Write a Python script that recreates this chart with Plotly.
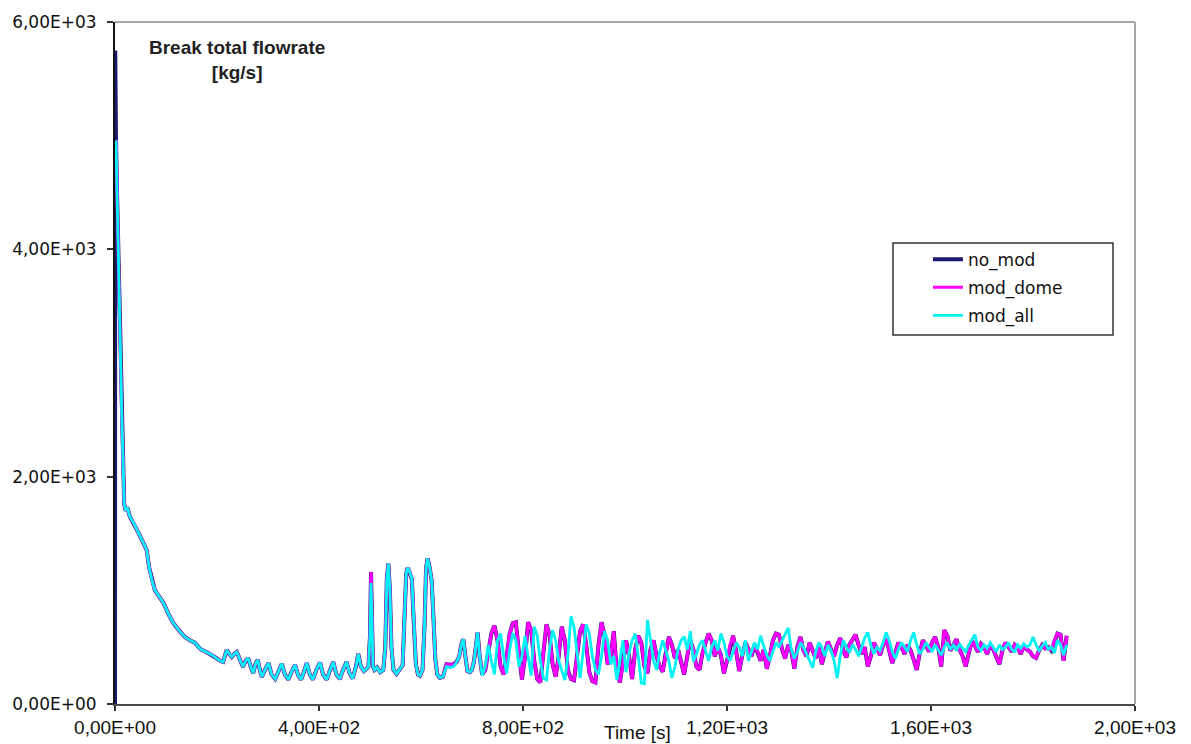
import plotly.graph_objects as go

# ---- data: break total flowrate [kg/s] versus time [s] ----

# opening peak of each case
t_peak_no_mod = [0, 0.5]
q_peak_no_mod = [0, 5750]
t_peak_mod = [1.5]
q_peak_dome = [4950]
q_peak_all = [4950]

# blowdown: the three cases coincide
t_decay = [2, 4, 8, 13, 18, 21, 24, 29, 38, 46, 54, 62, 67, 72, 78, 86, 95, 104, 114, 125,
           137, 147, 157, 164, 170, 180, 190, 200, 206, 212, 216, 219, 224, 229, 234, 239, 245, 251, 256, 261,
           266, 271, 276, 280, 284, 288, 294, 301, 307, 314, 320, 327, 333, 340, 346, 353, 359, 365, 371, 376,
           382, 388, 395, 402, 408, 415, 421, 428, 434, 441, 447, 454, 460, 466, 472, 477, 482, 488, 493]
q_decay = [4950, 4500, 3600, 2600, 1760, 1700, 1730, 1650, 1580, 1506, 1430, 1357, 1200, 1093, 1004, 950, 890, 800, 714, 650,
           590, 560, 537, 500, 476, 455, 432, 400, 380, 370, 430, 476, 440, 414, 440, 458, 390, 326, 380, 405,
           330, 273, 360, 388, 300, 238, 300, 360, 260, 220, 280, 355, 260, 215, 280, 345, 255, 215, 290, 360,
           260, 215, 300, 365, 260, 215, 290, 370, 260, 220, 300, 370, 270, 225, 320, 440, 330, 290, 310]

# flow spikes
t_spike = [497, 500, 502, 504, 506, 509, 514, 520, 526, 530, 533, 536, 539, 542, 546, 552, 558, 564, 568, 571,
           574, 578, 582, 586, 590, 594, 598, 603, 607, 610, 613, 617, 621, 625, 628, 632, 637, 643, 650, 657,
           664, 670, 675, 679, 683, 687, 691, 696, 700, 704, 708, 711, 715]
q_dome_spike = [330, 600, 1160, 720, 330, 300, 320, 280, 300, 500, 1100, 1235, 1000, 500, 300, 265, 300, 340, 800, 1150,
                1200, 1160, 1100, 700, 350, 260, 250, 300, 700, 1200, 1280, 1200, 1080, 700, 400, 260, 230, 240, 350, 345,
                350, 370, 420, 520, 570, 420, 290, 280, 300, 380, 560, 630, 420]
q_all_spike = [330, 600, 1065, 700, 330, 300, 320, 280, 300, 500, 1100, 1235, 1000, 500, 300, 265, 300, 340, 800, 1150,
               1200, 1160, 1100, 700, 350, 260, 250, 300, 700, 1200, 1280, 1200, 1080, 700, 400, 260, 230, 240, 330, 320,
               330, 370, 420, 520, 570, 420, 290, 280, 300, 380, 560, 630, 420]

# oscillating phase, sampled every 6 s from 720 s
t_osc_start = 720
t_osc_step = 6
q_dome_osc = [260, 300, 470, 620, 690, 560, 330, 260, 420, 620,
              710, 720, 450, 215, 420, 720, 650, 380, 220, 190,
              450, 700, 610, 350, 240, 420, 680, 560, 300, 220,
              210, 430, 640, 700, 520, 280, 200, 190, 520, 720,
              600, 350, 420, 640, 280, 190, 350, 560, 420, 220,
              480, 600, 540, 330, 270, 480, 560, 420, 330, 285,
              450, 590, 520, 400, 480, 380, 260, 420, 560, 480,
              330, 300, 450, 540, 620, 560, 420, 500, 430, 270,
              380, 520, 600, 460, 290, 430, 540, 480, 420, 520,
              460, 380, 480, 310, 420, 560, 620, 610, 480, 400,
              520, 470, 310, 500, 590, 470, 420, 540, 470, 400,
              500, 350, 460, 550, 480, 420, 520, 580, 470, 410,
              520, 560, 610, 520, 440, 500, 330, 420, 540, 490,
              430, 520, 570, 470, 360, 450, 540, 500, 440, 520,
              470, 390, 300, 450, 560, 520, 460, 540, 590, 500,
              330, 650, 600, 470, 520, 570, 480, 420, 330, 460,
              560, 510, 460, 530, 500, 440, 520, 480, 420, 350,
              470, 540, 500, 460, 520, 490, 440, 510, 480, 460,
              420, 405, 470, 520, 490, 500, 470, 560, 620, 610,
              380, 600]
q_all_osc = [250, 330, 520, 380, 260, 560, 620, 420, 270, 480,
             625, 560, 330, 420, 600, 420, 250, 681, 600, 380,
             230, 211, 480, 650, 560, 380, 300, 211, 420, 770,
             680, 450, 230, 460, 700, 620, 420, 300, 260, 420,
             640, 560, 350, 420, 211, 380, 560, 280, 450, 560,
             620, 420, 185, 180, 740, 560, 380, 300, 460, 560,
             470, 380, 229, 330, 480, 560, 593, 480, 640, 373,
             440, 520, 560, 460, 380, 500, 560, 470, 620, 540,
             420, 380, 470, 540, 500, 420, 560, 380, 460, 540,
             480, 600, 510, 430, 380, 470, 540, 500, 560, 620,
             670, 480, 400, 460, 540, 500, 440, 380, 320, 460,
             540, 500, 420, 520, 470, 380, 229, 420, 560, 500,
             450, 520, 480, 420, 500, 580, 630, 520, 440, 500,
             470, 540, 630, 560, 460, 400, 480, 540, 500, 460,
             560, 630, 520, 440, 480, 540, 500, 460, 520, 480,
             430, 500, 540, 480, 520, 470, 530, 490, 460, 520,
             560, 610, 500, 470, 520, 490, 540, 500, 460, 520,
             480, 500, 540, 480, 460, 520, 490, 530, 500, 520,
             590, 520, 470, 510, 540, 480, 500, 450, 560, 520,
             430, 520]
# no_mod follows mod_dome after the opening peak
q_no_mod_spike = q_dome_spike
q_no_mod_osc = q_dome_osc

x_ticks = [0, 400, 800, 1200, 1600, 2000]
x_tick_text = ["0,00E+00", "4,00E+02", "8,00E+02", "1,20E+03", "1,60E+03", "2,00E+03"]
y_ticks = [0, 2000, 4000, 6000]
y_tick_text = ["0,00E+00", "2,00E+03", "4,00E+03", "6,00E+03"]


def osc_times(values):
    return [t_osc_start + t_osc_step * i for i in range(len(values))]


series = [
    ("no_mod", "#1c1a6e", 4.0,
     t_peak_no_mod + t_decay + t_spike + osc_times(q_no_mod_osc),
     q_peak_no_mod + q_decay + q_no_mod_spike + q_no_mod_osc),
    ("mod_dome", "#ff00ff", 3.2,
     t_peak_mod + t_decay + t_spike + osc_times(q_dome_osc),
     q_peak_dome + q_decay + q_dome_spike + q_dome_osc),
    ("mod_all", "#00f2f2", 2.8,
     t_peak_mod + t_decay + t_spike + osc_times(q_all_osc),
     q_peak_all + q_decay + q_all_spike + q_all_osc),
]

fig = go.Figure()
for name, color, width, t, q in series:
    fig.add_trace(go.Scatter(
        x=t, y=q, mode="lines", name=name, legendgroup=name,
        line=dict(color=color, width=width),
    ))

L, R, T, B = 115, 56, 22, 40
W, H = 1191, 744
TXT = "Liberation Sans, Arial, sans-serif"

fig.update_layout(
    width=W, height=H,
    margin=dict(l=L, r=R, t=T, b=B, pad=0),
    paper_bgcolor="white", plot_bgcolor="white",
    showlegend=True,
    legend=dict(
        x=0.797, y=0.678, xanchor="left", yanchor="top",
        bgcolor="rgba(0,0,0,0)", borderwidth=0,
        font=dict(family="DejaVu Sans", size=17, color="#111"),
        tracegroupgap=3, itemwidth=30,
    ),
    xaxis=dict(
        range=[0, 2000], tickvals=x_ticks, ticktext=x_tick_text,
        showgrid=False, zeroline=False, automargin=False,
        showline=True, linecolor="#4a4a4a", linewidth=2,
        ticks="outside", ticklen=5, tickcolor="#333", tickwidth=1.5,
        tickfont=dict(family=TXT, size=19, color="#111"),
    ),
    yaxis=dict(
        range=[0, 6000], tickvals=y_ticks, ticktext=y_tick_text,
        showgrid=False, zeroline=False, automargin=False,
        showline=True, linecolor="#111", linewidth=2,
        ticks="outside", ticklen=6, tickcolor="#333", tickwidth=1.5,
        ticklabelstandoff=7,
        tickfont=dict(family="DejaVu Sans", size=17, color="#111"),
    ),
    shapes=[
        # frame: top and right edges
        dict(type="line", xref="paper", yref="paper", x0=0, x1=1, y0=1, y1=1,
             line=dict(color="#8a8a8a", width=1.5)),
        dict(type="line", xref="paper", yref="paper", x0=1, x1=1, y0=0, y1=1,
             line=dict(color="#8a8a8a", width=1.5)),
        # legend box
        dict(type="rect", xref="paper", yref="paper",
             x0=(893 - L) / 1020, x1=(1113 - L) / 1020,
             y0=(704 - 335) / 682, y1=(704 - 243) / 682,
             line=dict(color="#333", width=1.5), fillcolor="rgba(0,0,0,0)"),
    ],
    annotations=[
        dict(text="<b>Break total flowrate</b><br><b>[kg/s]</b>", xref="paper", yref="paper",
             x=(237 - L) / 1020, y=(704 - 35) / 682, xanchor="center", yanchor="top",
             showarrow=False, align="center",
             font=dict(family=TXT, size=19, color="#222")),
        dict(text="Time [s]", xref="paper", yref="paper",
             x=(637 - L) / 1020, y=(704 - 732) / 682, xanchor="center", yanchor="middle",
             showarrow=False,
             font=dict(family=TXT, size=19, color="#111")),
    ],
)

fig.write_html("out.html")
